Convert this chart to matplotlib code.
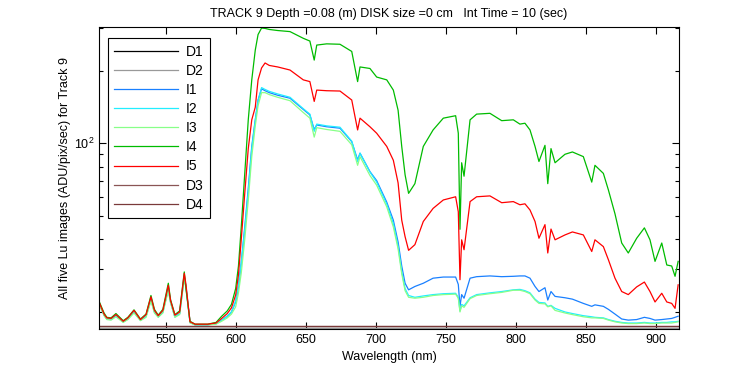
import numpy as np
import matplotlib
matplotlib.use("Agg")
import matplotlib.pyplot as plt
from matplotlib.ticker import LogLocator, NullFormatter, MultipleLocator

plt.rcParams['font.family'] = ['Liberation Sans', 'DejaVu Sans']
plt.rcParams['font.size'] = 9

# wavelength grid (nm) shared by the five Lu images
wl = [502.4, 506, 508, 511, 514.5, 519.7, 523, 527.4, 532, 536, 539.5, 542, 544.7, 548, 551.9, 553.5,
      556.6, 560, 563.3, 564.5, 567.4, 571, 580, 586, 590, 594, 597, 600, 602, 604, 606.5, 609, 611.5,
      614, 616, 618.5, 621, 624, 630, 638.8, 648.3, 653, 656.1, 657.9, 665, 674.5, 682.9, 687.1, 688.8,
      695.9, 700.7, 707.9, 712.6, 716, 718.6, 721, 723.5, 728, 734, 741, 748.3, 757.1, 759, 760.2, 761.4,
      763.1, 767.4, 772.1, 781.6, 790, 798.3, 803, 806.6, 810.2, 813.8, 816.6, 820.9, 822.9, 825.2, 828.1,
      835.2, 840.5, 848.3, 854.3, 856.6, 862.6, 866.2, 870.9, 875.7, 880.4, 886.4, 891.9, 895.9, 899.5,
      904.3, 907.9, 911.4, 913.8, 916]

I1 = [21.8, 19.4, 18.7, 18.6, 19.3, 18.2, 18.7, 20.0, 18.5, 19.2, 22.6, 20.0, 19.1, 20.0, 25.0, 22.0,
      19.1, 19.7, 28.0, 25.5, 18.1, 17.7, 17.7, 17.9, 18.5, 19.2, 20.0, 22.0, 25.5, 32, 45, 65, 97,
      125, 151, 168, 165, 162, 158, 153.6, 138, 131, 114, 119, 117, 115.4, 101.5, 85.3, 90.9,
      76.3, 70, 57, 48, 39, 31, 26.3, 24.7, 25.5, 26.3, 27.6, 27.9, 27.9, 26, 21.1, 23.6,
      22.8, 27.6, 28.0, 28.2, 28, 28.1, 28.2, 28.2, 27.6, 25.5, 24.3, 25.2, 22.4, 24.3, 23.2,
      22.9, 22.6, 21.7, 21.1, 21.4, 21.1, 20.5, 19.6, 18.7, 18.5, 18.6, 19.0, 18.8, 18.5,
      18.6, 18.7, 18.8, 19.0, 19.2]

I2 = [21.8, 19.4, 18.7, 18.6, 19.3, 18.2, 18.7, 20.0, 18.5, 19.2, 22.6, 20.0, 19.1, 20.0, 25.0, 22.0,
      19.1, 19.7, 28.0, 25.5, 18.1, 17.7, 17.7, 17.9, 18.5, 19.2, 20.0, 22.2, 25.8, 32, 44, 63, 95,
      124, 150, 170, 167, 164, 160, 155, 139, 132, 112, 120, 118, 116.5, 102, 84, 91,
      76, 69, 56, 46.5, 37.5, 29.5, 25, 23.4, 23.0, 23.3, 23.6, 23.8, 23.9, 23, 20.2, 21.5,
      21.2, 22.9, 23.6, 24.0, 24.3, 24.7, 24.8, 24.5, 24.0, 22.6, 21.9, 21.8, 21.1, 21.3, 20.7,
      20.0, 19.7, 19.3, 19.1, 19.0, 18.9, 18.6, 18.3, 18.1, 18.0, 18.0, 18.1, 18.0, 18.0,
      18.1, 18.1, 18.2, 18.2, 18.3]

I3 = [21.6, 19.3, 18.6, 18.5, 19.1, 18.1, 18.6, 19.8, 18.4, 19.0, 22.2, 19.8, 19.0, 19.8, 24.5, 21.8,
      19.0, 19.5, 27.5, 25, 18.0, 17.7, 17.7, 17.8, 18.3, 18.9, 19.6, 21.0, 24, 29, 40, 58, 88,
      118, 143, 162, 162, 159, 155, 150, 134, 127, 106, 116, 114, 112, 98.5, 81, 88,
      73.5, 67, 54.5, 45, 36.5, 28.8, 24.5, 23.0, 22.8, 23.0, 23.4, 23.6, 23.7, 22.8, 20.0, 21.2,
      20.9, 22.7, 23.4, 23.8, 24.1, 24.6, 24.6, 24.3, 23.8, 22.4, 21.7, 21.6, 21.0, 21.2, 20.3,
      19.8, 19.5, 19.1, 18.9, 18.9, 18.8, 18.5, 18.2, 18.0, 17.9, 17.9, 18.0, 17.9, 17.9,
      18.0, 18.0, 18.0, 18.1, 18.2]

I4 = [22.2, 19.8, 19.0, 18.9, 19.7, 18.4, 19.0, 20.4, 18.7, 19.6, 23.4, 20.5, 19.4, 20.5, 26.3, 22.5,
      19.5, 20.2, 29.3, 25, 18.3, 17.8, 17.8, 18.1, 19.2, 20.2, 21.5, 25, 31, 45, 75, 125, 183,
      243, 282, 300, 299, 296, 293, 290, 272, 265, 221, 255, 258, 257, 240, 180, 207,
      204, 188, 183, 166, 137, 97, 74, 62, 68, 97, 113.5, 127, 130, 110, 44, 83,
      73, 125, 132, 133, 124, 125, 120, 121, 113.5, 97, 84, 98, 68, 95, 83,
      90, 92, 88, 69, 81, 75, 64, 51, 38.6, 35.1, 40.4, 44.6, 39.8, 32.4,
      38.6, 31.3, 31, 28.1, 32.4]

I5 = [22.0, 19.6, 18.9, 18.8, 19.5, 18.3, 18.9, 20.3, 18.6, 19.5, 23.1, 20.3, 19.3, 20.3, 25.8, 22.3,
      19.4, 20.0, 28.9, 26, 18.2, 17.8, 17.8, 18.0, 18.8, 19.7, 20.8, 23.5, 28.5, 40, 62, 95, 125,
      141, 183, 205, 215, 210, 207, 201, 183, 180, 149, 166, 165, 164.5, 151, 113.5, 127,
      117, 110, 97, 85, 68.5, 48, 41, 36, 38, 47.4, 53.7, 58.2, 60, 52, 27.2, 39.8,
      36.2, 57.3, 60, 60.5, 56.7, 57.3, 55.6, 56.1, 52.9, 47.4, 40.4, 46, 35.1, 44.1, 39.8,
      41.7, 42.9, 41.7, 35.6, 39.8, 37.3, 32.9, 27.6, 24.3, 23.6, 25.4, 26.6, 24.3, 22,
      23.9, 22, 21.7, 20.7, 25.9]

# dark frames
wl_dark = [502.4, 916]
D1 = [17.1, 17.1]
D2 = [17.2, 17.2]
D3 = [17.5, 17.5]
D4 = [17.45, 17.45]

fig = plt.figure(figsize=(7.5, 3.75), dpi=100)
ax = fig.add_axes([0.132, 0.1227, 0.7733, 0.8053])

lw = 0.9
ax.plot(wl_dark, D1, color='black', lw=lw, label='D1')
ax.plot(wl_dark, D2, color='#999999', lw=lw, label='D2')
ax.plot(wl, I1, color='#1a80ff', lw=lw, label='I1')
ax.plot(wl, I2, color='#22eeff', lw=lw, label='I2')
ax.plot(wl, I3, color='#88ff88', lw=lw, label='I3')
ax.plot(wl, I4, color='#00bb00', lw=lw, label='I4')
ax.plot(wl, I5, color='#ff0000', lw=lw, label='I5')
ax.plot(wl_dark, D3, color='#8a5555', lw=lw, label='D3')
ax.plot(wl_dark, D4, color='#7a3a3a', lw=lw, label='D4')

ax.set_yscale('log')
ax.set_xlim(502.4, 916.6)
ax.set_ylim(17.0, 303)
ax.xaxis.set_major_locator(MultipleLocator(50))
ax.yaxis.set_minor_locator(LogLocator(base=10, subs=np.arange(2, 10)))
ax.yaxis.set_minor_formatter(NullFormatter())
ax.tick_params(which='both', direction='in', top=True, right=True, width=0.8)
ax.tick_params(which='major', length=5)
ax.tick_params(which='minor', length=3)
for s in ax.spines.values():
    s.set_linewidth(0.8)

ax.set_title('TRACK 9 Depth =0.08 (m) DISK size =0 cm   Int Time = 10 (sec)', fontsize=9, pad=7)
ax.set_xlabel('Wavelength (nm)', fontsize=9)
ax.set_ylabel('All five Lu images (ADU/pix/sec) for Track 9', fontsize=9, labelpad=2)

leg = ax.legend(loc='upper left', bbox_to_anchor=(0.0155, 0.9626), borderaxespad=0,
                handlelength=4.6, handletextpad=0.55, labelspacing=0.37, borderpad=0.45,
                fancybox=False, framealpha=1, edgecolor='black', fontsize=10)
leg.get_frame().set_linewidth(0.8)

fig.savefig('out.png', dpi=100)
